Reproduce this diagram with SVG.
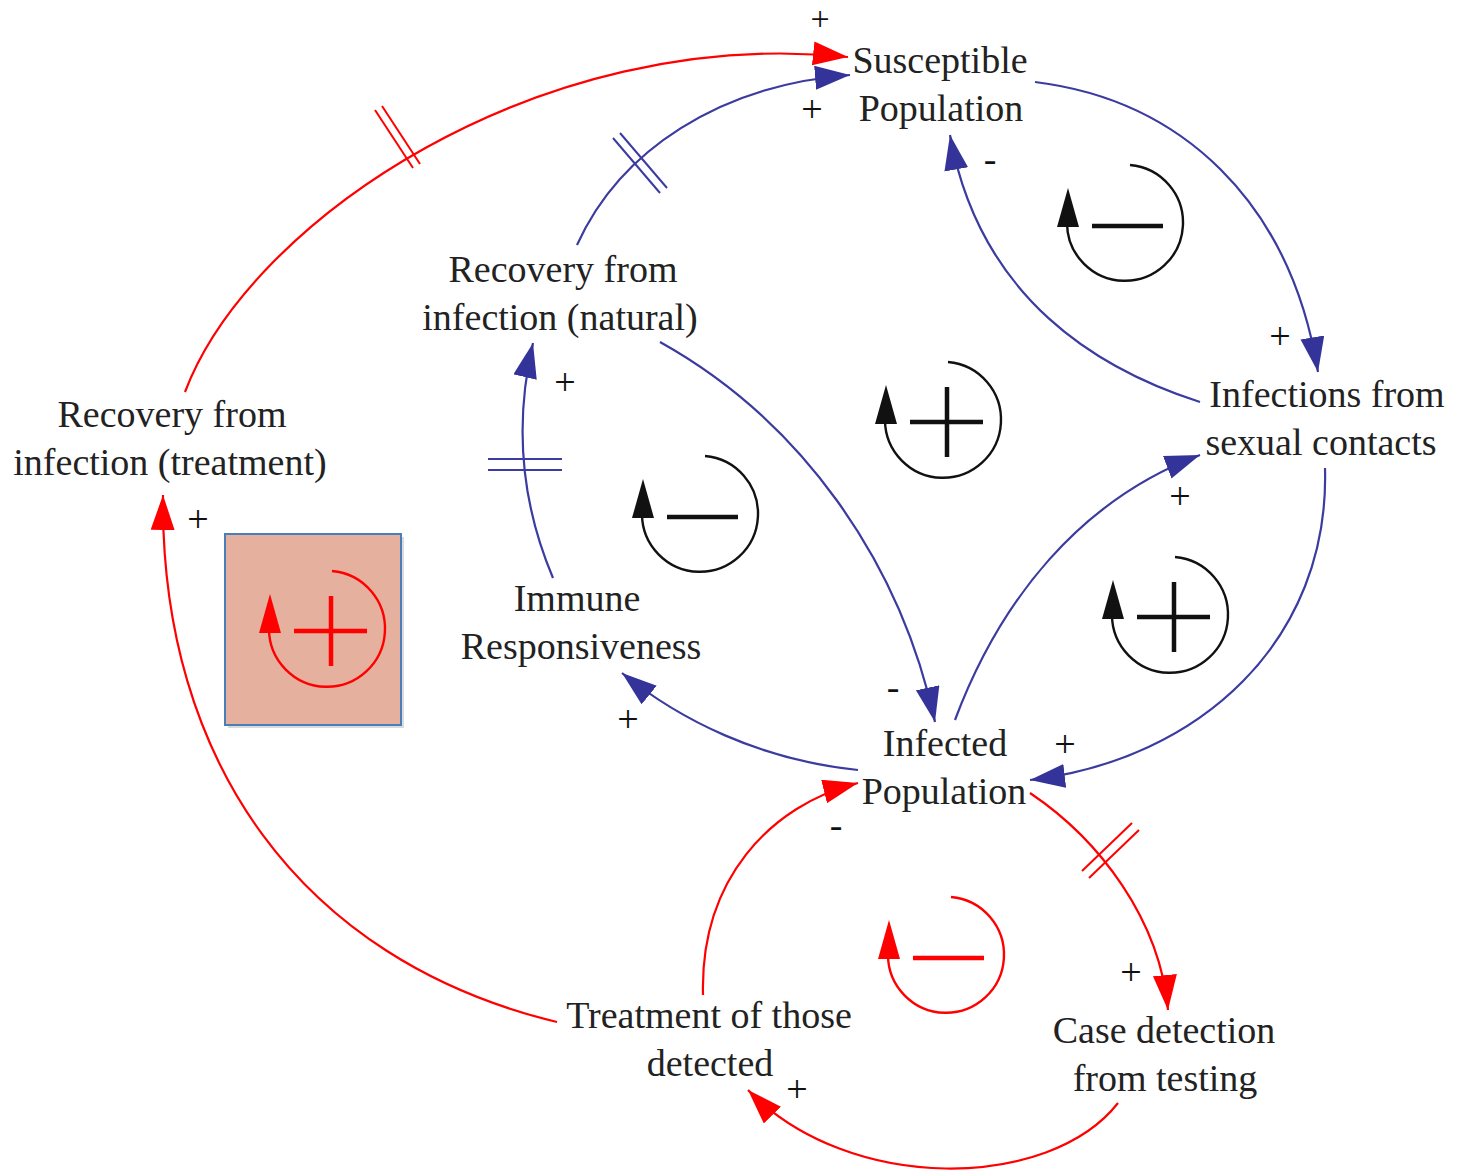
<svg xmlns="http://www.w3.org/2000/svg" width="1458" height="1174" viewBox="0 0 1458 1174">
<defs>
<style>
.lbl{font-family:"Liberation Serif","DejaVu Serif",serif;font-size:38px;fill:#222;text-anchor:middle}
.sgn{font-family:"Liberation Serif","DejaVu Serif",serif;font-size:38px;fill:#111;text-anchor:middle}
.r{fill:none;stroke:#ff0000;stroke-width:2.2}
.b{fill:none;stroke:#3b3ba0;stroke-width:2.2}
.rd{stroke:#ff0000;stroke-width:2}
.bd{stroke:#3b3ba0;stroke-width:2}
.ra{marker-end:url(#ar)}
.ba{marker-end:url(#ab)}
.loopk{stroke:#111;fill:#111}
.loopr{stroke:#ff0000;fill:#ff0000}
</style>
<marker id="ar" markerUnits="userSpaceOnUse" markerWidth="40" markerHeight="26" refX="35" refY="12" orient="auto"><path d="M0,0 L35,12 L0,24 z" fill="#ff0000"/></marker>
<marker id="ab" markerUnits="userSpaceOnUse" markerWidth="40" markerHeight="26" refX="35" refY="12" orient="auto"><path d="M0,0 L35,12 L0,24 z" fill="#333399"/></marker>
<g id="arcB">
<path d="M5,-58 A58,58 0 1,1 -58,0" fill="none" stroke-width="2.4"/>
<path d="M-57,-35 L-68,4 L-46,4 z" stroke="none"/>
<line x1="-33" y1="3" x2="38" y2="3" stroke-width="4.5"/>
</g>
<g id="arcR">
<path d="M5,-58 A58,58 0 1,1 -58,0" fill="none" stroke-width="2.4"/>
<path d="M-57,-35 L-68,4 L-46,4 z" stroke="none"/>
<line x1="-33" y1="2" x2="40" y2="2" stroke-width="4.5"/>
<line x1="4" y1="-33" x2="4" y2="37" stroke-width="4.5"/>
</g>
</defs>
<rect width="1458" height="1174" fill="#ffffff"/>

<g id="connectors">
<!-- red -->
<path class="r ra" d="M185,392 C250,220 540,25 848,57"/>
<line class="rd" x1="375" y1="110" x2="413" y2="168"/>
<line class="rd" x1="382" y1="106" x2="420" y2="164"/>
<path class="r ra" d="M557,1022 C300,960 160,760 163,495"/>
<path class="r ra" d="M703,995 C700,880 770,805 858,783"/>
<path class="r ra" d="M1030,793 C1100,840 1160,920 1168,1010"/>
<line class="rd" x1="1082" y1="871" x2="1132" y2="823"/>
<line class="rd" x1="1089" y1="878" x2="1139" y2="830"/>
<path class="r ra" d="M1118,1103 C1050,1190 850,1195 748,1090"/>
<!-- blue -->
<path class="b ba" d="M577,245 C620,150 720,85 850,75"/>
<line class="bd" x1="613" y1="138" x2="660" y2="193"/>
<line class="bd" x1="620" y1="133" x2="667" y2="188"/>
<path class="b ba" d="M1035,82 C1180,100 1290,200 1318,372"/>
<path class="b ba" d="M1200,402 C1100,370 980,300 950,135"/>
<path class="b ba" d="M1325,468 C1330,640 1200,760 1030,780"/>
<path class="b ba" d="M955,720 C1000,600 1080,500 1200,455"/>
<path class="b ba" d="M660,342 C800,420 900,560 935,722"/>
<path class="b ba" d="M858,770 C760,760 680,720 622,673"/>
<path class="b ba" d="M553,578 C520,500 515,420 533,343"/>
<line class="bd" x1="488" y1="459" x2="562" y2="459"/>
<line class="bd" x1="488" y1="470" x2="562" y2="470"/>
</g>

<g id="signs">
<text class="sgn" x="820" y="30" style="font-size:34px">+</text>
<text class="sgn" x="812" y="122">+</text>
<text class="sgn" x="990" y="172">-</text>
<text class="sgn" x="1280" y="349">+</text>
<text class="sgn" x="1180" y="509">+</text>
<text class="sgn" x="1065" y="757">+</text>
<text class="sgn" x="893" y="700">-</text>
<text class="sgn" x="628" y="732">+</text>
<text class="sgn" x="565" y="395">+</text>
<text class="sgn" x="198" y="532">+</text>
<text class="sgn" x="836" y="838">-</text>
<text class="sgn" x="1131" y="985">+</text>
<text class="sgn" x="797" y="1102">+</text>
</g>

<g id="loops">
<use href="#arcB" class="loopk" x="1125" y="223"/>
<use href="#arcR" class="loopk" x="943" y="420"/>
<use href="#arcB" class="loopk" x="700" y="514"/>
<use href="#arcR" class="loopk" x="1170" y="615"/>
<rect x="228" y="537" width="176" height="191" fill="#999" opacity="0.35"/>
<rect x="225" y="534" width="176" height="191" fill="#e6b09e" stroke="#4a7ebb" stroke-width="2"/>
<use href="#arcR" class="loopr" x="327" y="629"/>
<use href="#arcB" class="loopr" x="946" y="955"/>
</g>

<g id="node-susceptible"><text class="lbl" x="940" y="73">Susceptible</text><text class="lbl" x="941" y="121">Population</text></g>
<g id="node-recovery-natural"><text class="lbl" x="563" y="282">Recovery from</text><text class="lbl" x="560" y="330">infection (natural)</text></g>
<g id="node-recovery-treatment"><text class="lbl" x="172" y="427">Recovery from</text><text class="lbl" x="170" y="475">infection (treatment)</text></g>
<g id="node-infections-sexual"><text class="lbl" x="1327" y="407">Infections from</text><text class="lbl" x="1321" y="455">sexual contacts</text></g>
<g id="node-immune"><text class="lbl" x="577" y="611">Immune</text><text class="lbl" x="581" y="659">Responsiveness</text></g>
<g id="node-infected"><text class="lbl" x="945" y="756">Infected</text><text class="lbl" x="944" y="804">Population</text></g>
<g id="node-treatment"><text class="lbl" x="709" y="1028">Treatment of those</text><text class="lbl" x="710" y="1076">detected</text></g>
<g id="node-case-detection"><text class="lbl" x="1164" y="1043">Case detection</text><text class="lbl" x="1165" y="1091">from testing</text></g>
</svg>
